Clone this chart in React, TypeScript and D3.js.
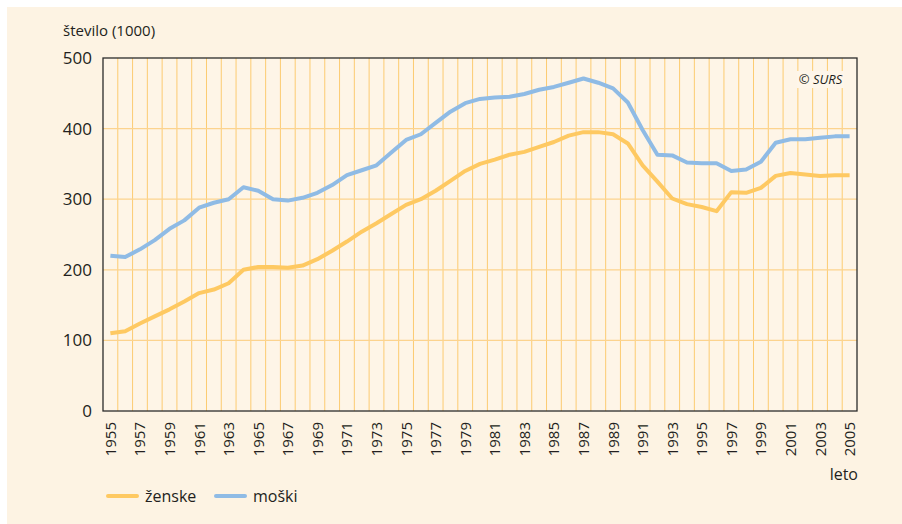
import React from "react";
import * as d3 from "d3";

const years: number[] = d3.range(1955, 2006);
const zenske: number[] = [
  110, 113, 124, 134, 144, 155, 167, 172, 181, 200,
  204, 204, 203, 206, 215, 227, 240, 254, 266, 279,
  292, 300, 312, 326, 340, 350, 356, 363, 367, 374,
  381, 390, 395, 395, 392, 379, 348, 325, 301, 293,
  289, 283, 310, 309, 316, 333, 337, 335, 333, 334, 334,
];
const moski: number[] = [
  220, 218, 229, 242, 258, 270, 288, 295, 300, 317,
  312, 300, 298, 302, 309, 320, 334, 341, 348, 366,
  384, 392, 408, 424, 436, 442, 444, 445, 449, 455,
  459, 465, 471, 465, 457, 437, 398, 363, 362, 352,
  351, 351, 340, 342, 353, 380, 385, 385, 387, 389, 389,
];
const yTicks: number[] = [0, 100, 200, 300, 400, 500];
const xTickYears: number[] = years.filter((y) => (y - 1955) % 2 === 0);
const seriesNames: string[] = ["ženske", "moški"];

const ORANGE = "#fec962";
const BLUE = "#8fbbe5";
const TEXT = "#231f20";
const FONT = "'Open Sans', 'Noto Sans', sans-serif";

export default function App() {
  const W = 902;
  const H = 524;
  const left = 103;
  const right = 857;
  const top = 58;
  const bottom = 411;

  const x = d3.scaleBand<number>().domain(years).range([left, right]).padding(0);
  const cx = (yr: number) => (x(yr) as number) + x.bandwidth() / 2;
  const y = d3.scaleLinear().domain([0, 500]).range([bottom, top]);

  const line = d3
    .line<number>()
    .x((_, i) => cx(years[i]))
    .y((d) => y(d))
    .curve(d3.curveLinear);

  const boundaries = years.slice(1).map((yr) => x(yr) as number);

  return (
    <svg
      width={W}
      height={H}
      style={{ position: "absolute", left: 0, top: 0, display: "block" }}
    >
      <rect x={0} y={0} width={W} height={H} fill="#ffffff" />
      <rect x={7} y={7} width={W - 7} height={H - 7} fill="#fdf3e3" />
      <rect x={left} y={top} width={right - left} height={bottom - top} fill="#fef5e7" />

      {boundaries.map((bx, i) => (
        <line
          key={"v" + i}
          x1={bx}
          x2={bx}
          y1={top}
          y2={bottom}
          stroke="#fcc55e"
          strokeWidth={1}
          opacity={0.85}
        />
      ))}
      {yTicks
        .filter((t) => t > 0 && t < 500)
        .map((t) => (
          <line
            key={"h" + t}
            x1={left}
            x2={right}
            y1={y(t)}
            y2={y(t)}
            stroke="#fcd38e"
            strokeWidth={1.2}
          />
        ))}

      <rect x={797} y={71} width={47} height={17} fill="#fef6ea" />
      <text
        x={820.5}
        y={84}
        textAnchor="middle"
        fontFamily={FONT}
        fontStyle="italic"
        fontSize={13}
        fill={TEXT}
      >
        © SURS
      </text>

      <path d={line(moski) || ""} fill="none" stroke={BLUE} strokeWidth={4} strokeLinejoin="round" />
      <path d={line(zenske) || ""} fill="none" stroke={ORANGE} strokeWidth={4} strokeLinejoin="round" />

      <rect x={left} y={top} width={right - left} height={bottom - top} fill="none" stroke="#2b2b2b" strokeWidth={1.3} />

      {yTicks.map((t) => (
        <text
          key={"yt" + t}
          x={92}
          y={y(t)}
          dy="0.35em"
          textAnchor="end"
          fontFamily={FONT}
          fontSize={17}
          fill={TEXT}
        >
          {t}
        </text>
      ))}
      <text x={63} y={36} fontFamily={FONT} fontSize={15} fill={TEXT}>
        število (1000)
      </text>

      {xTickYears.map((yr) => (
        <text
          key={"xt" + yr}
          transform={`translate(${cx(yr) + 5.5},${422}) rotate(-90)`}
          textAnchor="end"
          fontFamily={FONT}
          fontSize={15}
          fill={TEXT}
        >
          {yr}
        </text>
      ))}
      <text x={858} y={480} textAnchor="end" fontFamily={FONT} fontSize={16} fill={TEXT}>
        leto
      </text>

      {seriesNames.map((name, i) => {
        const lx = i === 0 ? 108 : 216;
        return (
          <g key={name}>
            <line x1={lx} x2={lx + 29} y1={496} y2={496} stroke={i === 0 ? ORANGE : BLUE} strokeWidth={4} strokeLinecap="round" />
            <text x={lx + 37} y={502} fontFamily={FONT} fontSize={16} fill={TEXT}>
              {name}
            </text>
          </g>
        );
      })}
    </svg>
  );
}
